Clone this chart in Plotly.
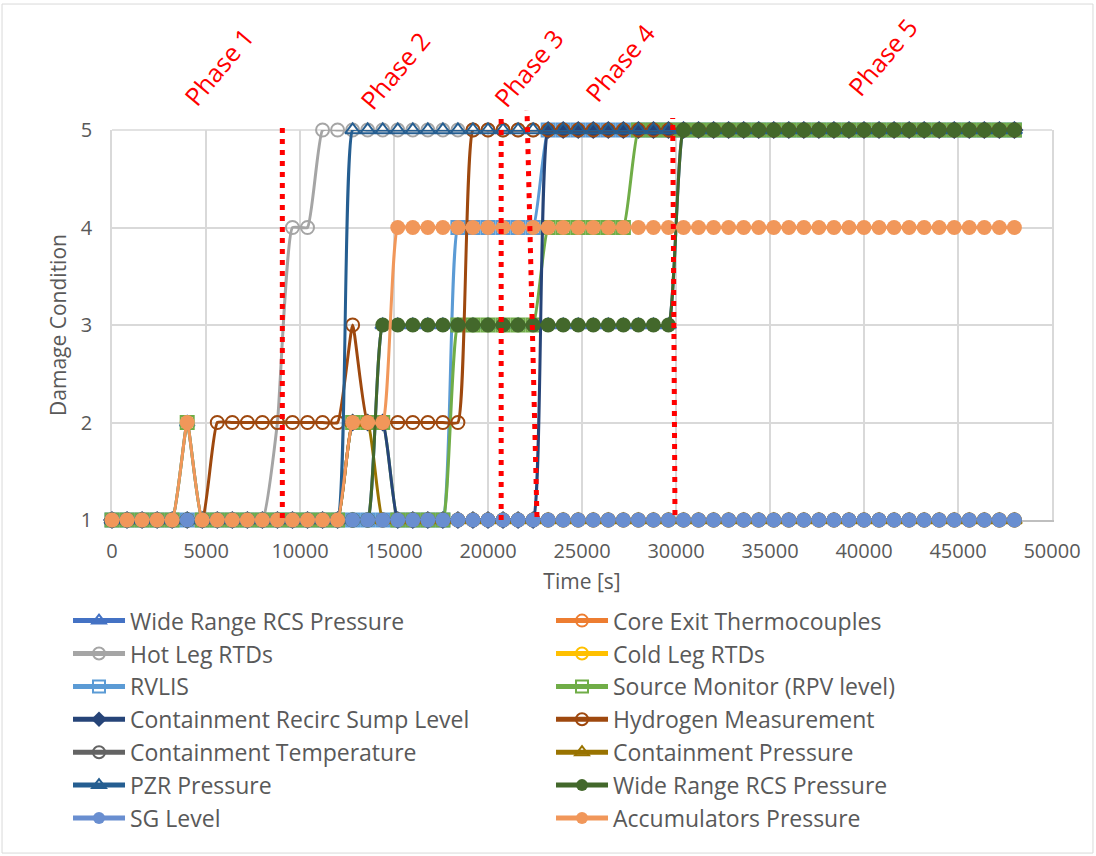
import plotly.graph_objects as go

# Sample times (s)
time_s = [
    0, 800, 1600, 2400, 3200, 4000, 4800, 5600, 6400, 7200,
    8000, 8800, 9600, 10400, 11200, 12000, 12800, 13600, 14400, 15200,
    16000, 16800, 17600, 18400, 19200, 20000, 20800, 21600, 22400, 23200,
    24000, 24800, 25600, 26400, 27200, 28000, 28800, 29600, 30400, 31200,
    32000, 32800, 33600, 34400, 35200, 36000, 36800, 37600, 38400, 39200,
    40000, 40800, 41600, 42400, 43200, 44000, 44800, 45600, 46400, 47200,
    48000,
]

# Damage condition per instrument
wide_range_rcs_a = [
    1, 1, 1, 1, 1, 2, 1, 1, 1, 1,
    1, 1, 1, 1, 1, 1, 1, 1, 3, 3,
    3, 3, 3, 3, 3, 3, 3, 3, 3, 3,
    3, 3, 3, 3, 3, 3, 3, 3, 5, 5,
    5, 5, 5, 5, 5, 5, 5, 5, 5, 5,
    5, 5, 5, 5, 5, 5, 5, 5, 5, 5,
    5,
]
core_exit_tc = [
    1, 1, 1, 1, 1, 1, 1, 1, 1, 1,
    1, 1, 1, 1, 1, 1, 1, 1, 1, 1,
    1, 1, 1, 1, 1, 1, 1, 1, 1, 1,
    1, 1, 1, 1, 1, 1, 1, 1, 1, 1,
    1, 1, 1, 1, 1, 1, 1, 1, 1, 1,
    1, 1, 1, 1, 1, 1, 1, 1, 1, 1,
    1,
]
hot_leg_rtd = [
    1, 1, 1, 1, 1, 1, 1, 1, 1, 1,
    1, 2, 4, 4, 5, 5, 5, 5, 5, 5,
    5, 5, 5, 5, 5, 5, 5, 5, 5, 5,
    5, 5, 5, 5, 5, 5, 5, 5, 5, 5,
    5, 5, 5, 5, 5, 5, 5, 5, 5, 5,
    5, 5, 5, 5, 5, 5, 5, 5, 5, 5,
    5,
]
cold_leg_rtd = [
    1, 1, 1, 1, 1, 1, 1, 1, 1, 1,
    1, 1, 1, 1, 1, 1, 1, 1, 1, 1,
    1, 1, 1, 1, 1, 1, 1, 1, 1, 1,
    1, 1, 1, 1, 1, 1, 1, 1, 1, 1,
    1, 1, 1, 1, 1, 1, 1, 1, 1, 1,
    1, 1, 1, 1, 1, 1, 1, 1, 1, 1,
    1,
]
rvlis = [
    1, 1, 1, 1, 1, 1, 1, 1, 1, 1,
    1, 1, 1, 1, 1, 1, 1, 1, 1, 1,
    1, 1, 1, 4, 4, 4, 4, 4, 4, 5,
    5, 5, 5, 5, 5, 5, 5, 5, 5, 5,
    5, 5, 5, 5, 5, 5, 5, 5, 5, 5,
    5, 5, 5, 5, 5, 5, 5, 5, 5, 5,
    5,
]
source_monitor = [
    1, 1, 1, 1, 1, 2, 1, 1, 1, 1,
    1, 1, 1, 1, 1, 1, 2, 2, 2, 1,
    1, 1, 1, 3, 3, 3, 3, 3, 3, 4,
    4, 4, 4, 4, 4, 5, 5, 5, 5, 5,
    5, 5, 5, 5, 5, 5, 5, 5, 5, 5,
    5, 5, 5, 5, 5, 5, 5, 5, 5, 5,
    5,
]
sump_level = [
    1, 1, 1, 1, 1, 1, 1, 1, 1, 1,
    1, 1, 1, 1, 1, 1, 2, 2, 2, 1,
    1, 1, 1, 1, 1, 1, 1, 1, 1, 5,
    5, 5, 5, 5, 5, 5, 5, 5, 5, 5,
    5, 5, 5, 5, 5, 5, 5, 5, 5, 5,
    5, 5, 5, 5, 5, 5, 5, 5, 5, 5,
    5,
]
hydrogen = [
    1, 1, 1, 1, 1, 1, 1, 2, 2, 2,
    2, 2, 2, 2, 2, 2, 3, 2, 2, 2,
    2, 2, 2, 2, 5, 5, 5, 5, 5, 5,
    5, 5, 5, 5, 5, 5, 5, 5, 5, 5,
    5, 5, 5, 5, 5, 5, 5, 5, 5, 5,
    5, 5, 5, 5, 5, 5, 5, 5, 5, 5,
    5,
]
cont_temperature = [
    1, 1, 1, 1, 1, 1, 1, 1, 1, 1,
    1, 1, 1, 1, 1, 1, 1, 1, 1, 1,
    1, 1, 1, 1, 1, 1, 1, 1, 1, 1,
    1, 1, 1, 1, 1, 1, 1, 1, 1, 1,
    1, 1, 1, 1, 1, 1, 1, 1, 1, 1,
    1, 1, 1, 1, 1, 1, 1, 1, 1, 1,
    1,
]
cont_pressure = [
    1, 1, 1, 1, 1, 1, 1, 1, 1, 1,
    1, 1, 1, 1, 1, 1, 2, 2, 1, 1,
    1, 1, 1, 1, 1, 1, 1, 1, 1, 1,
    1, 1, 1, 1, 1, 1, 1, 1, 1, 1,
    1, 1, 1, 1, 1, 1, 1, 1, 1, 1,
    1, 1, 1, 1, 1, 1, 1, 1, 1, 1,
    1,
]
pzr_pressure = [
    1, 1, 1, 1, 1, 1, 1, 1, 1, 1,
    1, 1, 1, 1, 1, 1, 5, 5, 5, 5,
    5, 5, 5, 5, 5, 5, 5, 5, 5, 5,
    5, 5, 5, 5, 5, 5, 5, 5, 5, 5,
    5, 5, 5, 5, 5, 5, 5, 5, 5, 5,
    5, 5, 5, 5, 5, 5, 5, 5, 5, 5,
    5,
]
wide_range_rcs_b = [
    1, 1, 1, 1, 1, 1, 1, 1, 1, 1,
    1, 1, 1, 1, 1, 1, 1, 1, 3, 3,
    3, 3, 3, 3, 3, 3, 3, 3, 3, 3,
    3, 3, 3, 3, 3, 3, 3, 3, 5, 5,
    5, 5, 5, 5, 5, 5, 5, 5, 5, 5,
    5, 5, 5, 5, 5, 5, 5, 5, 5, 5,
    5,
]
sg_level = [
    1, 1, 1, 1, 1, 1, 1, 1, 1, 1,
    1, 1, 1, 1, 1, 1, 1, 1, 1, 1,
    1, 1, 1, 1, 1, 1, 1, 1, 1, 1,
    1, 1, 1, 1, 1, 1, 1, 1, 1, 1,
    1, 1, 1, 1, 1, 1, 1, 1, 1, 1,
    1, 1, 1, 1, 1, 1, 1, 1, 1, 1,
    1,
]
accumulators = [
    1, 1, 1, 1, 1, 2, 1, 1, 1, 1,
    1, 1, 1, 1, 1, 1, 2, 2, 2, 4,
    4, 4, 4, 4, 4, 4, 4, 4, 4, 4,
    4, 4, 4, 4, 4, 4, 4, 4, 4, 4,
    4, 4, 4, 4, 4, 4, 4, 4, 4, 4,
    4, 4, 4, 4, 4, 4, 4, 4, 4, 4,
    4,
]

series_names = [
    "Wide Range RCS Pressure", "Core Exit Thermocouples", "Hot Leg RTDs",
    "Cold Leg RTDs", "RVLIS", "Source Monitor (RPV level)",
    "Containment Recirc Sump Level", "Hydrogen Measurement",
    "Containment Temperature", "Containment Pressure", "PZR Pressure",
    "Wide Range RCS Pressure", "SG Level", "Accumulators Pressure",
]
series_values = [
    wide_range_rcs_a, core_exit_tc, hot_leg_rtd, cold_leg_rtd, rvlis,
    source_monitor, sump_level, hydrogen, cont_temperature, cont_pressure,
    pzr_pressure, wide_range_rcs_b, sg_level, accumulators,
]

# Phase boundaries (s) and label positions
phase_top_t = [9060, 20700, 22075, 29825]
phase_bottom_t = [9060, 20700, 22605, 29945]
phase_labels = ["Phase 1", "Phase 2", "Phase 3", "Phase 4", "Phase 5"]
phase_label_t = [5690, 15050, 22130, 27020, 40960]

# ---- styling ----
series_style = [
    ("#4472C4", "triangle-up-open", 13),
    ("#ED7D31", "circle-open", 13),
    ("#A5A5A5", "circle-open", 13),
    ("#FFC000", "circle-open", 13),
    ("#5B9BD5", "square-open", 13),
    ("#70AD47", "square-open", 13),
    ("#264478", "diamond", 14),
    ("#9E480E", "circle-open", 13),
    ("#636363", "circle-open", 13),
    ("#997300", "triangle-up-open", 13),
    ("#255E91", "triangle-up-open", 13),
    ("#43682B", "circle", 15),
    ("#698ED0", "circle", 15),
    ("#F1975A", "circle", 15),
]
phase_top_y = [1.0205, 1.0436, 1.0513, 1.0308]
phase_bottom_y = [0.005, 0.0, 0.0077, 0.0128]
phase_label_y = [1.164, 1.154, 1.159, 1.174, 1.187]

FONT = "Open Sans"
TXT = "#595959"
GRID = "#D9D9D9"

fig = go.Figure()
for name, vals, (color, symbol, size) in zip(series_names, series_values, series_style):
    is_open = symbol.endswith("open")
    fig.add_trace(go.Scatter(
        x=time_s, y=vals, name=name, mode="lines+markers",
        line=dict(color=color, width=3, shape="spline", smoothing=0.4),
        marker=dict(symbol=symbol, size=size, color=color,
                    line=dict(color=color, width=2 if is_open else 0)),
        cliponaxis=False,
    ))

shapes = []
for t0, t1, y0, y1 in zip(phase_bottom_t, phase_top_t, phase_bottom_y, phase_top_y):
    shapes.append(dict(type="line", xref="x", yref="paper", x0=t0, x1=t1, y0=y0, y1=y1,
                       line=dict(color="#FF0000", width=5, dash="5px,6px"), layer="above"))
# top edge of the plot area
shapes.append(dict(type="line", xref="paper", yref="paper", x0=0, x1=1, y0=1, y1=1,
                   line=dict(color=GRID, width=1.5), layer="below"))
# chart frame
shapes.append(dict(type="rect", xref="paper", yref="paper",
                   x0=-0.117, x1=1.0436, y0=-0.854, y1=1.323,
                   line=dict(color=GRID, width=1), layer="below"))

annotations = []
for label, t, y in zip(phase_labels, phase_label_t, phase_label_y):
    annotations.append(dict(text=label, x=t, y=y, xref="x", yref="paper",
                            xanchor="center", yanchor="middle", showarrow=False,
                            textangle=-50, font=dict(family=FONT, size=25, color="#FF0000")))

fig.update_layout(
    width=1096, height=856,
    margin=dict(l=112, r=44, t=130, b=336, autoexpand=False),
    paper_bgcolor="white", plot_bgcolor="white",
    font=dict(family=FONT, color=TXT),
    shapes=shapes, annotations=annotations,
    showlegend=True,
    legend=dict(orientation="h", x=-0.0468, xanchor="left", y=-0.203, yanchor="top",
                itemwidth=52, entrywidth=416, entrywidthmode="pixels", itemsizing="constant",
                font=dict(family=FONT, size=23, color=TXT), bgcolor="rgba(0,0,0,0)"),
    xaxis=dict(range=[0, 50000], tick0=0, dtick=5000, tickformat="d",
               showgrid=True, gridcolor=GRID, gridwidth=1.5, zeroline=False,
               showline=True, linecolor="#BFBFBF", linewidth=1.5,
               ticks="", ticklabelstandoff=12,
               tickfont=dict(family=FONT, size=20, color=TXT),
               title=dict(text="Time [s]", font=dict(family=FONT, size=21, color=TXT), standoff=12),
               layer="below traces"),
    yaxis=dict(range=[1, 5], tick0=1, dtick=1,
               showgrid=True, gridcolor=GRID, gridwidth=1.5, zeroline=False,
               showline=True, mirror=True, linecolor=GRID, linewidth=1.5,
               ticks="", ticklabelstandoff=14,
               tickfont=dict(family=FONT, size=20, color=TXT),
               title=dict(text="Damage Condition", font=dict(family=FONT, size=21, color=TXT), standoff=8),
               layer="below traces"),
)

fig.write_html("out.html")
